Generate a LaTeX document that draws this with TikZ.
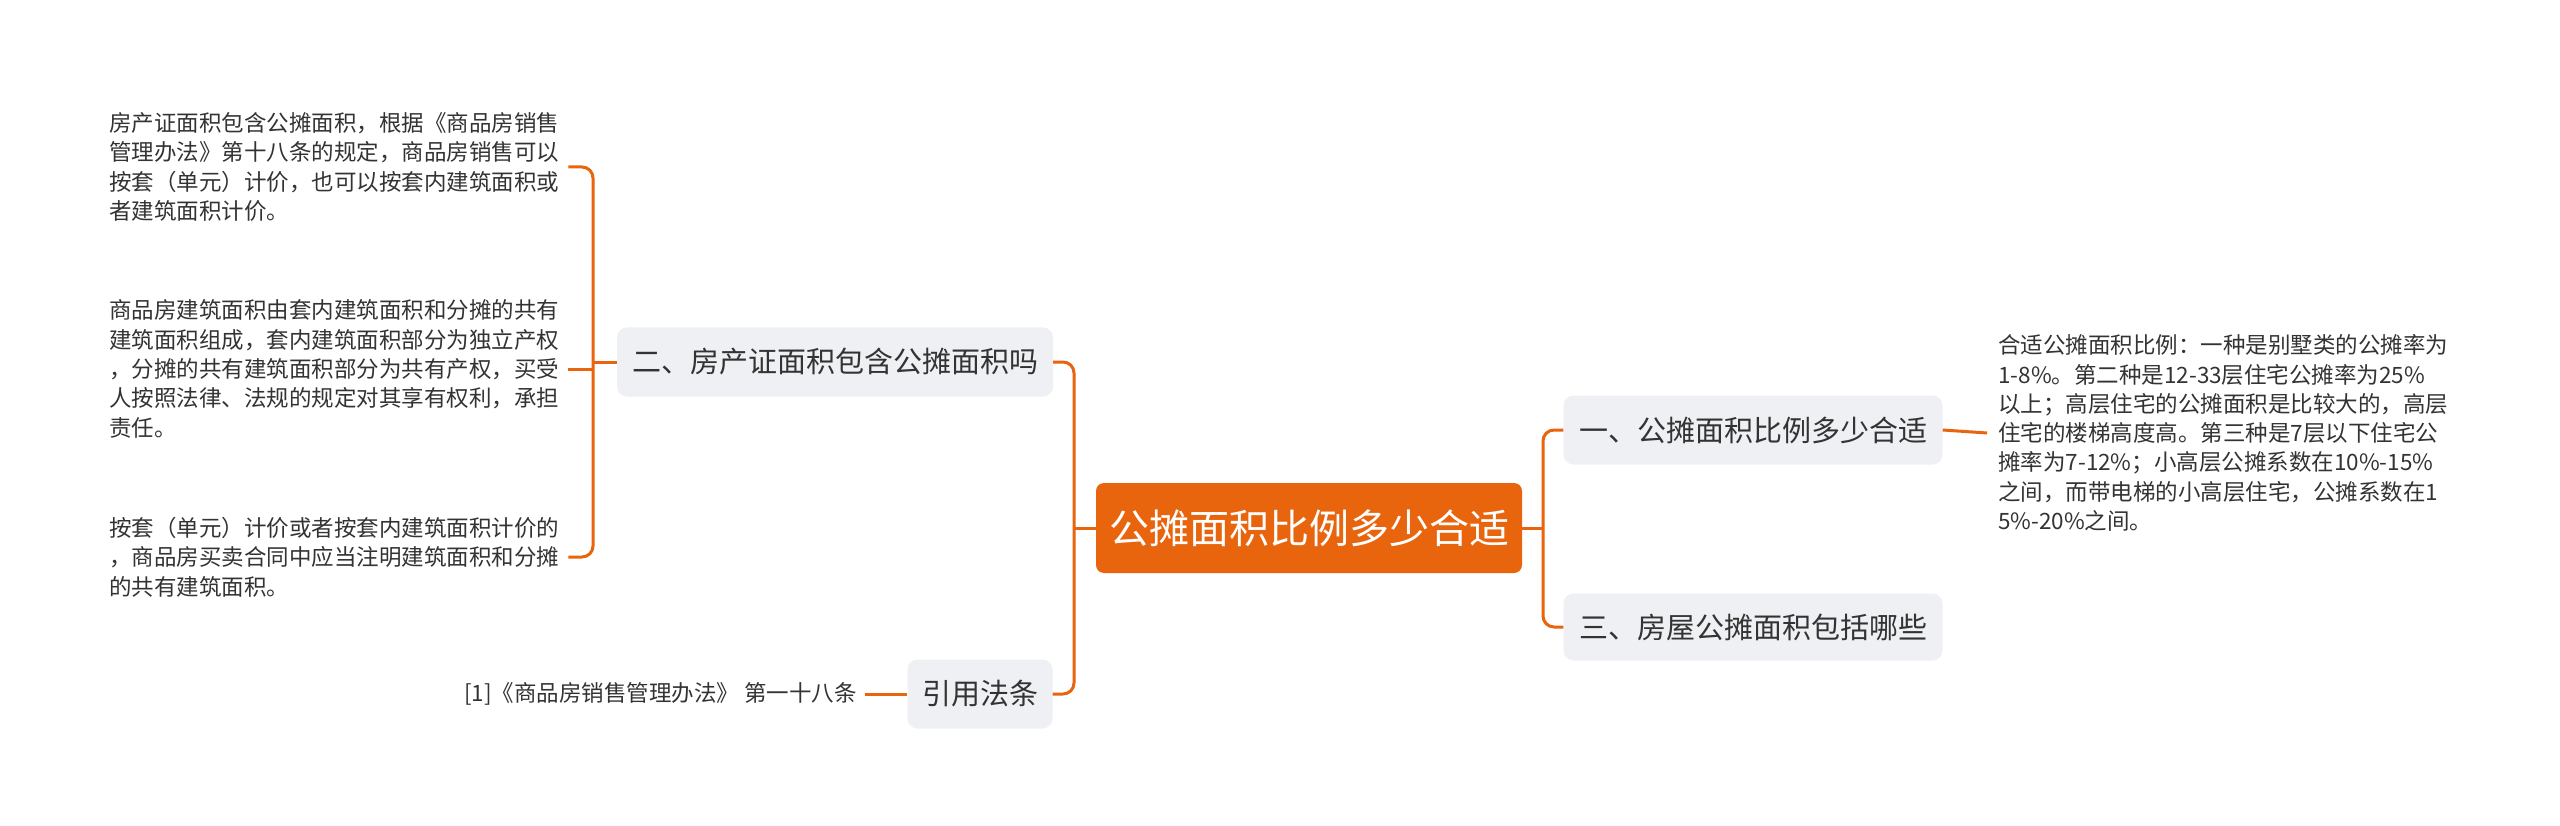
\documentclass[tikz,border=0pt]{standalone}
\usepackage{fontspec}
\setmainfont{Noto Sans CJK SC}
\definecolor{brand}{HTML}{E8650E}
\definecolor{nodebg}{HTML}{EEF0F3}
\definecolor{ink}{HTML}{333333}
\begin{document}
\begin{tikzpicture}[x=1pt,y=-1pt,
 line/.style={draw=brand,line width=3pt,rounded corners=11pt},
 root/.style={fill=brand,text=white,rounded corners=8pt,minimum width=426pt,minimum height=90pt,font=\fontsize{40}{48}\selectfont,inner sep=0pt},
 topic/.style={fill=nodebg,text=ink,rounded corners=10pt,minimum height=69pt,font=\fontsize{29}{35}\selectfont,inner sep=0pt},
 leaf/.style={text=ink,align=left,font=\fontsize{22.5}{29.3}\selectfont,inner sep=0pt}]
\fill[white] (0,0) rectangle (2560,826);
\useasboundingbox (0,0) rectangle (2560,826);
\node[root] (c) at (1309,528) {公摊面积比例多少合适};
\node[topic,minimum width=436pt] (b2) at (835,362) {二、房产证面积包含公摊面积吗};
\node[topic,minimum width=145pt] (cite) at (980,694) {引用法条};
\node[topic,minimum width=379pt] (b1) at (1753,430) {一、公摊面积比例多少合适};
\node[topic,minimum width=379pt,minimum height=67pt] (b3) at (1753,627) {三、房屋公摊面积包括哪些};
\node[leaf,anchor=west] (l1) at (109,167) {房产证面积包含公摊面积，根据《商品房销售\\管理办法》第十八条的规定，商品房销售可以\\按套（单元）计价，也可以按套内建筑面积或\\者建筑面积计价。};
\node[leaf,anchor=west] (l2) at (109,369) {商品房建筑面积由套内建筑面积和分摊的共有\\建筑面积组成，套内建筑面积部分为独立产权\\，分摊的共有建筑面积部分为共有产权，买受\\人按照法律、法规的规定对其享有权利，承担\\责任。};
\node[leaf,anchor=west] (l3) at (109,557) {按套（单元）计价或者按套内建筑面积计价的\\，商品房买卖合同中应当注明建筑面积和分摊\\的共有建筑面积。};
\node[leaf,anchor=east] (lc) at (857,694) {[1]《商品房销售管理办法》 第一十八条};
\node[leaf,anchor=west] (r1) at (1998,433) {合适公摊面积比例：一种是别墅类的公摊率为\\1-8\%。第二种是12-33层住宅公摊率为25\%\\以上；高层住宅的公摊面积是比较大的，高层\\住宅的楼梯高度高。第三种是7层以下住宅公\\摊率为7-12\%；小高层公摊系数在10\%-15\%\\之间，而带电梯的小高层住宅，公摊系数在1\\5\%-20\%之间。};
\coordinate (jl) at (1074,528);
\coordinate (jr) at (1543,528);
\coordinate (j2) at (593,362);
\draw[line] (c.west) -- (jl);
\draw[line] (b2.east) -| (jl) |- (cite.east);
\draw[line] (c.east) -- (jr);
\draw[line] (b1.west) -| (jr) |- (b3.west);
\draw[line] (b2.west) -- (j2);
\draw[line] ([xshift=9pt]l1.east) -| (j2) |- ([xshift=9pt]l3.east);
\draw[line] ([xshift=9pt]l2.east) -- (l2.east -| j2);
\draw[line] (b1.east) -- ([xshift=-11pt]r1.west);
\draw[line] (cite.west) -- ([xshift=8pt]lc.east);
\end{tikzpicture}
\end{document}
